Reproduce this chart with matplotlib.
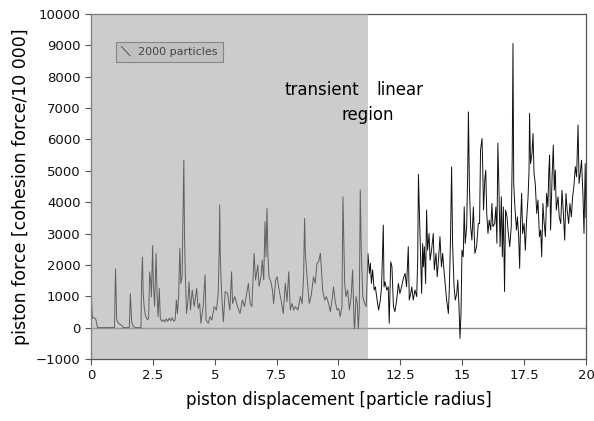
import matplotlib
matplotlib.use("Agg")
import matplotlib.pyplot as plt
from matplotlib.legend_handler import HandlerLine2D

# piston displacement [particle radius]
displacement = [
    0.00, 0.03, 0.06, 0.10, 0.16, 0.20, 0.26, 0.95, 0.99, 1.01, 1.04, 1.10, 1.18, 1.27, 1.30,
    1.55, 1.59, 1.62, 1.65, 1.72, 1.83, 2.02, 2.04, 2.08, 2.11, 2.15, 2.20, 2.28, 2.33, 2.37,
    2.41, 2.44, 2.49, 2.52, 2.57, 2.63, 2.67, 2.71, 2.76, 2.80, 2.86, 2.92, 2.98, 3.04, 3.10,
    3.16, 3.22, 3.28, 3.34, 3.40, 3.45, 3.49, 3.54, 3.59, 3.63, 3.68, 3.75, 3.78, 3.81, 3.86,
    3.92, 3.96, 4.02, 4.09, 4.17, 4.27, 4.33, 4.39, 4.44, 4.53, 4.61, 4.65, 4.74, 4.81, 4.88,
    4.98, 5.07, 5.14, 5.18, 5.20, 5.22, 5.25, 5.30, 5.35, 5.42, 5.52, 5.61, 5.68, 5.72, 5.81,
    5.92, 6.02, 6.12, 6.20, 6.29, 6.36, 6.43, 6.50, 6.59, 6.65, 6.74, 6.79, 6.87, 6.92, 6.98,
    7.03, 7.07, 7.11, 7.15, 7.19, 7.27, 7.33, 7.38, 7.46, 7.52, 7.60, 7.68, 7.77, 7.85, 7.92,
    7.99, 8.05, 8.12, 8.19, 8.26, 8.36, 8.46, 8.53, 8.59, 8.63, 8.66, 8.70, 8.77, 8.82, 8.90,
    8.99, 9.06, 9.13, 9.20, 9.27, 9.31, 9.36, 9.44, 9.51, 9.60, 9.67, 9.74, 9.80, 9.87, 9.94,
    10.01, 10.07, 10.14, 10.18, 10.21, 10.25, 10.30, 10.37, 10.44, 10.51, 10.57, 10.63, 10.65,
    10.71, 10.76, 10.80, 10.84, 10.88, 10.92, 10.98, 11.06, 11.12, 11.19, 11.25, 11.29, 11.33,
    11.38, 11.44, 11.49, 11.56, 11.62, 11.69, 11.74, 11.81, 11.84, 11.88, 11.95, 12.01, 12.05,
    12.11, 12.16, 12.22, 12.28, 12.35, 12.42, 12.48, 12.55, 12.62, 12.69, 12.75, 12.82, 12.86,
    12.92, 12.96, 13.02, 13.09, 13.16, 13.20, 13.23, 13.27, 13.32, 13.36, 13.40, 13.43, 13.47,
    13.52, 13.56, 13.60, 13.66, 13.70, 13.76, 13.83, 13.87, 13.94, 13.99, 14.05, 14.10, 14.16,
    14.21, 14.26, 14.32, 14.37, 14.44, 14.48, 14.53, 14.57, 14.61, 14.67, 14.72, 14.78, 14.82,
    14.87, 14.91, 14.95, 14.99, 15.04, 15.08, 15.12, 15.18, 15.22, 15.25, 15.29, 15.34, 15.39,
    15.45, 15.51, 15.58, 15.65, 15.70, 15.74, 15.80, 15.83, 15.86, 15.91, 15.95, 15.99, 16.04,
    16.09, 16.15, 16.20, 16.24, 16.31, 16.36, 16.40, 16.44, 16.49, 16.53, 16.58, 16.62, 16.66,
    16.71, 16.75, 16.81, 16.85, 16.92, 16.98, 17.02, 17.05, 17.08, 17.12, 17.19, 17.23, 17.28,
    17.32, 17.36, 17.40, 17.44, 17.50, 17.55, 17.60, 17.66, 17.70, 17.72, 17.76, 17.82, 17.86,
    17.90, 17.95, 18.01, 18.06, 18.12, 18.17, 18.21, 18.26, 18.30, 18.36, 18.41, 18.46, 18.50,
    18.53, 18.57, 18.63, 18.68, 18.72, 18.76, 18.80, 18.87, 18.92, 18.98, 19.03, 19.08, 19.14,
    19.19, 19.24, 19.30, 19.35, 19.41, 19.46, 19.51, 19.57, 19.62, 19.68, 19.72, 19.77, 19.82,
    19.88, 19.92, 19.97, 20.00,
]

# piston force [cohesion force/10 000]
force = [
    1150, 700, 300, 320, 300, 250, 0, 0, 1870, 1200, 250, 150, 100, 50, 0,
    0, 1080, 550, 150, 30, 0, 0, 1400, 2250, 1100, 650, 380, 250, 300, 1780,
    1500, 980, 2620, 1400, 680, 2360, 1080, 350, 1250, 300, 200, 250, 180, 280, 200,
    300, 220, 320, 200, 250, 880, 450, 990, 2530, 1400, 1620, 5340, 2840, 1730, 450,
    900, 1460, 560, 1200, 670, 1250, 610, 770, 140, 670, 1680, 240, 140, 350, 240,
    670, 560, 1090, 2470, 3910, 2470, 1620, 770, 190, 1150, 1090, 560, 1780, 770, 990,
    670, 450, 880, 670, 1090, 1410, 770, 670, 2370, 1520, 2000, 1310, 1620, 2150, 1520,
    3380, 2260, 3800, 2260, 1620, 1460, 1200, 770, 1520, 1620, 1200, 880, 450, 1410, 830,
    1780, 560, 770, 560, 670, 560, 990, 770, 1620, 3480, 2370, 1940, 1200, 770, 1040,
    1620, 1410, 2050, 2100, 2370, 1840, 1200, 880, 990, 770, 510, 880, 1300, 830, 560,
    610, 350, 670, 4170, 3000, 1410, 990, 1200, 560, 990, 1840, 140, -30,
    990, 770, -30, 560, 4390, 2470, 990, 770, 670, 2370, 1730, 2050, 1410,
    1840, 1200, 1300, 880, 560, 880, 1300, 3270, 1300, 1460, 1200, 1300, 140,
    2100, 1940, 670, 510, 880, 1410, 1090, 1300, 1570, 1730, 1300, 2580, 880,
    1090, 1300, 880, 1200, 990, 2150, 4890, 3640, 2260, 1090, 2680, 1940, 2580,
    1410, 3750, 2470, 3000, 2150, 2470, 3000, 1840, 2370, 1620, 2260, 2900, 1940,
    2370, 1840, 1300, 880, 450, 1300, 3000, 5130, 2680, 1300, 880, 1090, 1520,
    670, -340, 450, 2470, 2260, 3850, 2680, 3220, 4920, 6880, 4490, 3220, 2790,
    3850, 2370, 2580, 3320, 3320, 5660, 6030, 5020, 3750, 4700, 5020, 3640, 3000,
    3430, 3110, 3960, 3220, 3320, 3850, 2690, 5880, 4170, 2580, 4170, 2260, 3850,
    1150, 3750, 3530, 3110, 2580, 3220, 5450, 9060, 4600, 3960, 3110, 3530, 2900,
    1890, 3430, 4280, 3000, 3320, 2470, 3430, 4170, 5020, 6830, 5230, 5560, 6190,
    4920, 4600, 3640, 4070, 2900, 3110, 2260, 3960, 3430, 2900, 4280, 3850, 5020,
    5500, 3110, 4810, 5820, 4380, 5020, 3750, 4170, 3530, 3320, 4380, 3750, 2790,
    4280, 3750, 3320, 3960, 3530, 4170, 4490, 5130, 4810, 6460, 4600, 4920, 5340,
    4170, 3000, 5230, 3500,
]

x_ticks = [0, 2.5, 5, 7.5, 10, 12.5, 15, 17.5, 20]
x_tick_labels = ["0", "2.5", "5", "7.5", "10", "12.5", "15", "17.5", "20"]
y_ticks = list(range(-1000, 10001, 1000))
transient_end = 11.2
series_label = "2000 particles"

plt.rcParams['font.family'] = ['DejaVu Sans']

fig = plt.figure(figsize=(5.94, 4.21), dpi=100)
ax = fig.add_axes([0.1532, 0.1473, 0.8333, 0.8194])

line, = ax.plot(displacement, force, color='#111111', lw=0.7, zorder=2, label=series_label)
ax.axhline(0, color='#8a8a8a', lw=1.0, zorder=1.5)
ax.axvspan(0, transient_end, color='#a2a2a2', alpha=0.55, lw=0, zorder=3)

ax.set_xlim(0, 20)
ax.set_ylim(-1000, 10000)
ax.set_xticks(x_ticks)
ax.set_xticklabels(x_tick_labels)
ax.set_yticks(y_ticks)
ax.tick_params(direction='out', length=4, width=0.8, color='#555555', labelsize=9.5,
               labelcolor='#111111')
for s in ax.spines.values():
    s.set_color('#555555')
    s.set_linewidth(0.9)

ax.set_xlabel("piston displacement [particle radius]", fontsize=12, labelpad=6)
ax.set_ylabel("piston force [cohesion force/10 000]", fontsize=12.5, labelpad=4)

ax.text(9.33, 7580, "transient", fontsize=12, ha='center', va='center', zorder=6)
ax.text(12.48, 7580, "linear", fontsize=12, ha='center', va='center', zorder=6)
ax.text(11.19, 6780, "region", fontsize=12, ha='center', va='center', zorder=6)


class DiagHandler(HandlerLine2D):
    def create_artists(self, legend, orig_handle, xdescent, ydescent, width, height,
                       fontsize, trans):
        from matplotlib.lines import Line2D
        l = Line2D([0, width * 0.6], [height * 1.1, -height * 0.1], color='#555555', lw=0.7)
        l.set_transform(trans)
        return [l]


leg = ax.legend(handles=[line], handler_map={line: DiagHandler()}, loc='upper left',
                bbox_to_anchor=(0.04, 0.935), fontsize=8, frameon=True, fancybox=False,
                handlelength=1.3, handletextpad=0.2, borderpad=0.45, labelcolor='#444444')
leg.get_frame().set_facecolor('#bdbdbd')
leg.get_frame().set_edgecolor('#777777')
leg.get_frame().set_linewidth(0.8)
leg.set_zorder(7)

fig.savefig("out.png", dpi=100)
